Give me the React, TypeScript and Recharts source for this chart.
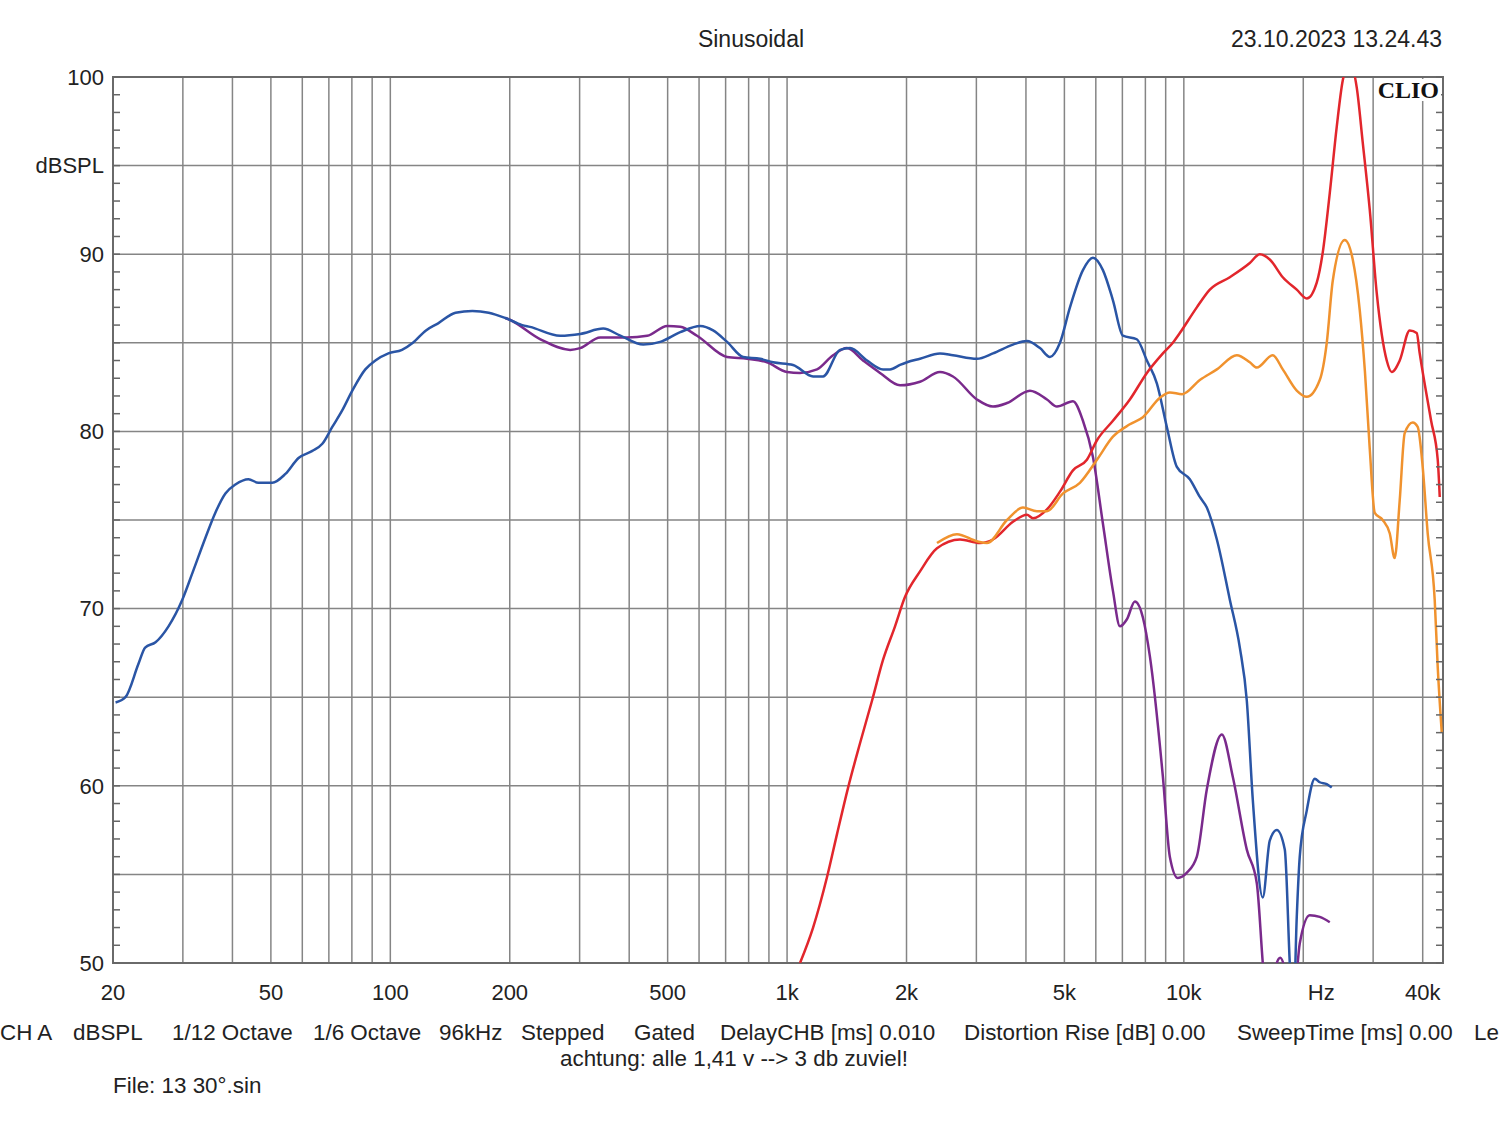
import React from "react";
import { LineChart, Line, XAxis, YAxis, CartesianGrid, ReferenceArea } from "recharts";

const W = 1500;
const H = 1121;
const FONT = '"Liberation Sans", Arial, sans-serif';

// [frequency Hz, level dBSPL]
const blueCurve: [number, number][] = [
  [20.3, 64.7], [21.5, 65.0], [23.2, 66.9], [24.1, 67.8], [25.6, 68.1], [27.6, 69.0], [29.9, 70.5],
  [31.7, 72.0], [34.2, 74.0], [36.2, 75.4], [38.4, 76.5], [40.7, 77.0], [43.9, 77.3], [46.5, 77.1],
  [50.4, 77.1], [54.4, 77.6], [58.7, 78.5], [63.6, 78.9], [67.4, 79.3], [71.4, 80.25], [75.7, 81.2],
  [80.2, 82.3], [86.5, 83.5], [91.7, 84.0], [98.9, 84.4], [107, 84.6], [114, 85.0], [123, 85.7],
  [132, 86.1], [146, 86.7], [161, 86.8], [177, 86.7], [195, 86.4], [215, 86.0], [225, 85.9],
  [268, 85.4], [301, 85.5], [344, 85.8], [380, 85.4], [434, 84.9], [479, 85.05], [538, 85.6],
  [604, 85.95], [651, 85.7], [706, 85.05], [775, 84.2], [855, 84.1], [922, 83.9], [1035, 83.75],
  [1163, 83.1], [1232, 83.1], [1360, 84.6], [1441, 84.7], [1591, 84.0], [1745, 83.5], [1817, 83.5],
  [1926, 83.75], [2006, 83.9], [2163, 84.1], [2429, 84.4], [2619, 84.3], [3010, 84.1], [3303, 84.4],
  [3710, 84.9], [4023, 85.1], [4339, 84.7], [4598, 84.2], [4873, 85.0], [5164, 87.0], [5568, 89.1],
  [5901, 89.8], [6252, 89.1], [6627, 87.4], [7022, 85.4], [7611, 85.2], [8070, 84.0], [8554, 82.7],
  [9061, 80.25], [9603, 78.0], [10354, 77.3], [10973, 76.3], [11428, 75.7], [12112, 73.9],
  [13060, 70.5], [13840, 67.8], [14412, 64.8], [14923, 59.2], [15812, 53.7], [16466, 56.9],
  [17150, 57.5], [17965, 56.4], [18493, 50.0], [18850, 46.5], [19258, 52.6], [19596, 56.0],
  [20408, 58.6], [21380, 60.4], [22007, 60.2], [22920, 60.1], [23597, 59.9],
];

const purpleCurve: [number, number][] = [
  [195, 86.4], [200, 86.3], [239, 85.2], [284, 84.6], [301, 84.7], [338, 85.3], [395, 85.3],
  [444, 85.4], [499, 85.95], [538, 85.9], [593, 85.4], [706, 84.2], [793, 84.1], [890, 83.9],
  [1000, 83.35], [1078, 83.3], [1190, 83.5], [1306, 84.3], [1416, 84.7], [1554, 84.0], [1715, 83.3],
  [1926, 82.6], [2163, 82.8], [2429, 83.35], [2619, 83.1], [3010, 81.8], [3303, 81.4], [3583, 81.6],
  [4094, 82.3], [4519, 81.8], [4789, 81.4], [5255, 81.7], [5568, 80.6], [5901, 78.55], [6252, 74.8],
  [6627, 71.0], [6902, 69.0], [7187, 69.4], [7527, 70.4], [7885, 69.5], [8212, 67.3], [8856, 60.5],
  [9219, 56.0], [9659, 54.8], [10180, 55.1], [10783, 56.0], [11428, 59.8], [12468, 62.9],
  [13289, 60.5], [14412, 56.4], [15273, 54.5], [15812, 50.0], [16300, 46.5], [17150, 50.0],
  [17500, 50.3], [17900, 49.8], [18700, 46.5], [19596, 51.1], [20767, 52.7], [22007, 52.6],
  [23325, 52.3],
];

const redCurve: [number, number][] = [
  [1078, 50.0], [1163, 52.0], [1261, 54.85], [1337, 57.3], [1425, 59.9], [1527, 62.4], [1637, 64.8],
  [1745, 67.1], [1871, 69.0], [1982, 70.65], [2163, 72.1], [2387, 73.4], [2729, 73.9], [3063, 73.7],
  [3303, 73.9], [3710, 74.9], [4023, 75.3], [4166, 75.1], [4519, 75.6], [4873, 76.6], [5255, 77.8],
  [5698, 78.4], [6040, 79.5], [6627, 80.6], [7311, 81.8], [8070, 83.3], [8856, 84.4], [9382, 85.0],
  [9770, 85.55], [10783, 87.0], [11628, 88.0], [13060, 88.7], [14665, 89.5], [15541, 90.0],
  [16466, 89.7], [17757, 88.7], [19258, 88.0], [20408, 87.5], [21627, 88.4], [22394, 90.1],
  [23325, 93.45], [24291, 97.2], [25150, 99.8], [26190, 100.8], [27280, 99.4], [28245, 96.3],
  [29420, 92.5], [30636, 87.8], [32463, 84.0], [33416, 83.35], [35001, 84.0], [37094, 85.7],
  [38630, 85.55], [39311, 84.4], [42000, 80.6], [43644, 78.4], [44157, 76.3],
];

const orangeCurve: [number, number][] = [
  [2387, 73.7], [2680, 74.2], [3010, 73.8], [3190, 73.7], [3583, 75.0], [3932, 75.7], [4264, 75.5],
  [4519, 75.5], [4958, 76.5], [5471, 77.1], [6040, 78.4], [6627, 79.7], [7311, 80.4], [7885, 80.8],
  [8703, 81.9], [9219, 82.2], [9900, 82.1], [10973, 82.9], [12112, 83.5], [13601, 84.3],
  [14665, 83.9], [15273, 83.6], [16755, 84.3], [17757, 83.5], [19258, 82.3], [20408, 81.95],
  [22007, 82.9], [22920, 85.0], [23734, 88.5], [25443, 90.8], [26652, 89.7], [27757, 86.85],
  [28600, 83.4], [29420, 79.0], [30284, 75.4], [31717, 75.0], [33031, 74.25], [34002, 72.85],
  [35001, 76.1], [36033, 79.9], [37744, 80.5], [38854, 80.25], [39997, 78.0], [41174, 74.25],
  [42884, 70.5], [43644, 66.7], [44676, 63.0],
];

const xTicks = [
  20, 30, 40, 50, 60, 70, 80, 90, 100, 200, 300, 400, 500, 600, 700, 800, 900,
  1000, 2000, 3000, 4000, 5000, 6000, 7000, 8000, 9000, 10000, 20000, 30000, 40000,
];
const xTickLabels: Record<number, string> = {
  20: "20", 50: "50", 100: "100", 200: "200", 500: "500", 1000: "1k", 2000: "2k",
  5000: "5k", 10000: "10k", 20000: "Hz", 40000: "40k",
};
const yGridValues = [50, 55, 60, 65, 70, 75, 80, 85, 90, 95, 100];
const yTicks = Array.from({ length: 51 }, (_, i) => 50 + i); // 1 dB tick marks
const yTickLabels: Record<number, string> = {
  50: "50", 60: "60", 70: "70", 80: "80", 90: "90", 95: "dBSPL", 100: "100",
};

const footerItems: [string, number][] = [
  ["CH A", 0], ["dBSPL", 73], ["1/12 Octave", 172], ["1/6 Octave", 313], ["96kHz", 439],
  ["Stepped", 521], ["Gated", 634], ["DelayCHB [ms] 0.010", 720], ["Distortion Rise [dB] 0.00", 964],
  ["SweepTime [ms] 0.00", 1237], ["Le", 1474],
];

const toRows = (pts: [number, number][]) => pts.map(([f, db]) => ({ f, db }));

const FreqTick = (props: any) => {
  const { x, y, payload } = props;
  const label = xTickLabels[payload.value];
  if (!label) return <g />;
  const dx = payload.value === 20000 ? 18 : 0;
  return (
    <text x={x + dx} y={y} dy="0.71em" textAnchor="middle" fontSize={22} fontFamily={FONT} fill="#222">
      {label}
    </text>
  );
};

const NoLabel = () => <g />;

export default function App() {
  const grid = "#858585";
  return (
    <div style={{ position: "absolute", left: 0, top: 0, width: W, height: H, background: "#fff", overflow: "hidden" }}>
      <LineChart width={W} height={H} margin={{ top: 77, right: 56, bottom: 118, left: 0 }}>
        <CartesianGrid stroke={grid} strokeWidth={1.5} horizontalValues={yGridValues} />
        <XAxis
          type="number"
          dataKey="f"
          scale="log"
          domain={[20, 45000]}
          allowDataOverflow
          ticks={xTicks}
          interval={0}
          height={40}
          axisLine={false}
          tickLine={false}
          tickSize={0}
          tickMargin={21}
          tick={<FreqTick />}
        />
        <YAxis
          type="number"
          domain={[50, 100]}
          allowDataOverflow
          ticks={yTicks}
          interval={0}
          width={113}
          axisLine={false}
          tickSize={-7}
          tickMargin={16}
          tickLine={{ stroke: "#666", strokeWidth: 1.5 }}
          tickFormatter={(v: number) => yTickLabels[v] ?? ""}
          tick={{ fontSize: 22, fontFamily: FONT, fill: "#222" }}
        />
        <YAxis
          yAxisId="right"
          orientation="right"
          type="number"
          domain={[50, 100]}
          allowDataOverflow
          ticks={yTicks}
          interval={0}
          width={1}
          axisLine={false}
          tickSize={-7}
          tickLine={{ stroke: "#666", strokeWidth: 1.5 }}
          tick={<NoLabel />}
        />
        <ReferenceArea x1={20} x2={45000} y1={50} y2={100} fill="none" stroke="#6a6a6a" strokeWidth={2} />
        <Line data={toRows(purpleCurve)} dataKey="db" type="monotone" stroke="#7a2a8c" strokeWidth={2.5} dot={false} isAnimationActive={false} />
        <Line data={toRows(blueCurve)} dataKey="db" type="monotone" stroke="#2a55a5" strokeWidth={2.5} dot={false} isAnimationActive={false} />
        <Line data={toRows(redCurve)} dataKey="db" type="monotone" stroke="#e2262c" strokeWidth={2.5} dot={false} isAnimationActive={false} />
        <Line yAxisId="right" data={toRows(orangeCurve)} dataKey="db" type="monotone" stroke="#f0922e" strokeWidth={2.5} dot={false} isAnimationActive={false} />
      </LineChart>
      <svg width={W} height={H} style={{ position: "absolute", left: 0, top: 0, pointerEvents: "none" }}>
        <g fontFamily={FONT} fill="#222">
          <text x={751} y={47} textAnchor="middle" fontSize={23}>Sinusoidal</text>
          <text x={1442} y={47} textAnchor="end" fontSize={23}>23.10.2023 13.24.43</text>
          {footerItems.map(([t, x]) => (
            <text key={t} x={x} y={1040} fontSize={22.4}>{t}</text>
          ))}
          <text x={560} y={1066} fontSize={22.4}>achtung: alle 1,41 v --&gt; 3 db zuviel!</text>
          <text x={113} y={1093} fontSize={22.4}>File: 13 30°.sin</text>
        </g>
        <rect x={1375} y={79} width={66} height={22} fill="#fff" />
        <text x={1439} y={98} textAnchor="end" fontFamily='"Liberation Serif", "DejaVu Serif", serif' fontWeight="bold" fontSize={24} fill="#111">
          CLIO
        </text>
      </svg>
    </div>
  );
}
